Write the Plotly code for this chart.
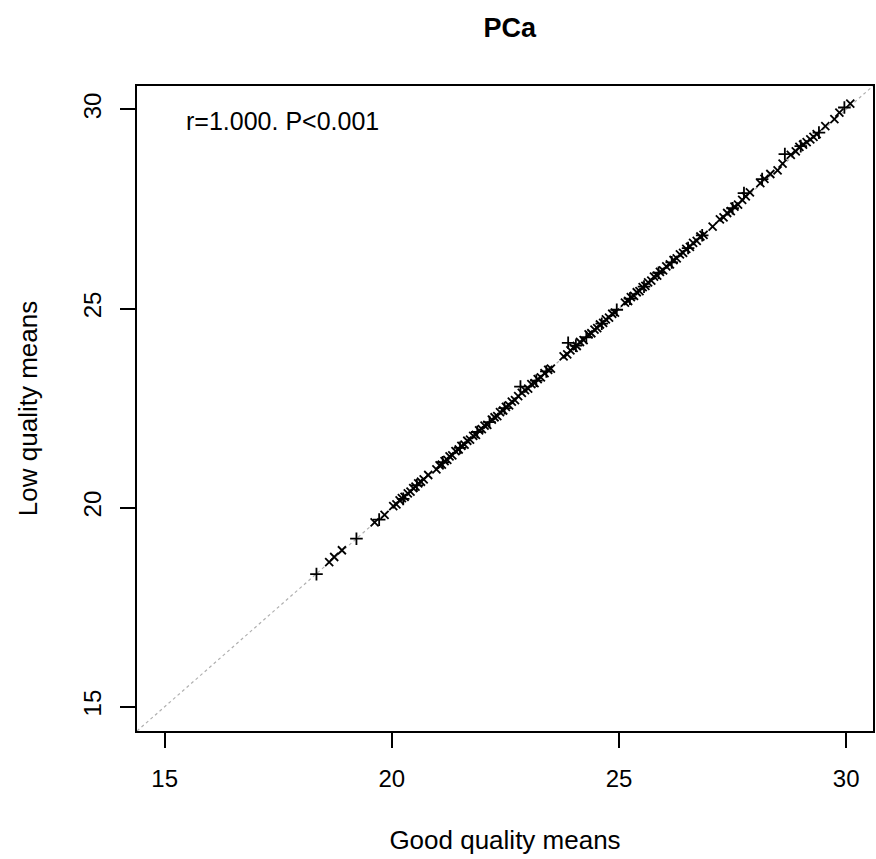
import plotly.graph_objects as go

# Series drawn with "x" markers (good quality mean, low quality mean)
good_a = [18.62, 18.73, 18.90, 19.62, 19.84, 20.03, 20.10, 20.17, 20.22, 20.28, 20.35, 20.41,
          20.47, 20.52, 20.58, 20.64, 20.70, 20.80, 20.98, 21.05, 21.10, 21.16, 21.22, 21.27,
          21.33, 21.40, 21.47, 21.53, 21.60, 21.66, 21.72, 21.79, 21.85, 21.92, 21.98, 22.04,
          22.10, 22.20, 22.26, 22.32, 22.38, 22.45, 22.51, 22.58, 22.64, 22.71, 22.78, 22.86,
          22.93, 23.00, 23.07, 23.14, 23.21, 23.28, 23.36, 23.44, 23.50, 23.78, 23.86, 23.93,
          24.00, 24.07, 24.14, 24.22, 24.33, 24.39, 24.46, 24.52, 24.58, 24.65, 24.71, 24.78,
          24.85, 24.91, 25.13, 25.20, 25.26, 25.33, 25.39, 25.45, 25.52, 25.58, 25.64, 25.71,
          25.77, 25.84, 25.90, 25.97, 26.04, 26.12, 26.20, 26.27, 26.34, 26.41, 26.48, 26.56,
          26.63, 26.71, 26.79, 26.86, 27.06, 27.22, 27.30, 27.38, 27.46, 27.54, 27.62, 27.71,
          27.79, 27.88, 28.11, 28.20, 28.33, 28.49, 28.60, 28.78, 28.89, 28.97, 29.05, 29.13,
          29.21, 29.28, 29.35, 29.54, 29.74, 29.85, 30.09]
low_a = [18.63, 18.76, 18.93, 19.63, 19.82, 20.04, 20.08, 20.18, 20.24, 20.27, 20.36, 20.40,
         20.49, 20.53, 20.61, 20.65, 20.71, 20.82, 20.96, 21.06, 21.08, 21.17, 21.20, 21.29,
         21.31, 21.42, 21.46, 21.55, 21.58, 21.68, 21.71, 21.80, 21.83, 21.94, 21.97, 22.06,
         22.08, 22.21, 22.27, 22.30, 22.40, 22.44, 22.53, 22.57, 22.66, 22.70, 22.80, 22.88,
         22.95, 22.99, 23.10, 23.13, 23.23, 23.27, 23.38, 23.46, 23.49, 23.80, 23.85, 23.95,
         24.01, 24.06, 24.16, 24.21, 24.35, 24.38, 24.47, 24.51, 24.60, 24.64, 24.73, 24.77,
         24.87, 24.90, 25.15, 25.19, 25.29, 25.32, 25.41, 25.44, 25.54, 25.57, 25.66, 25.70,
         25.80, 25.83, 25.92, 25.96, 26.06, 26.11, 26.22, 26.26, 26.36, 26.40, 26.50, 26.55,
         26.65, 26.70, 26.81, 26.85, 27.06, 27.24, 27.29, 27.40, 27.45, 27.56, 27.61, 27.73,
         27.82, 27.92, 28.15, 28.26, 28.38, 28.47, 28.64, 28.86, 28.95, 29.06, 29.12, 29.18,
         29.25, 29.31, 29.38, 29.58, 29.76, 29.92, 30.15]

# Series drawn with "+" markers
good_b = [18.34, 19.22, 19.72, 20.25, 20.55, 21.12, 21.50, 21.88, 22.15, 22.48, 22.83, 23.18,
          23.40, 23.88, 24.05, 24.28, 24.62, 24.95, 25.24, 25.55, 25.87, 26.16, 26.52, 26.83,
          27.50, 27.75, 28.15, 28.65, 29.00, 29.40, 29.96]
low_b = [18.33, 19.22, 19.70, 20.22, 20.56, 21.14, 21.50, 21.90, 22.15, 22.50, 23.04, 23.19,
         23.42, 24.14, 24.07, 24.28, 24.62, 24.97, 25.25, 25.55, 25.90, 26.16, 26.52, 26.84,
         27.52, 27.90, 28.25, 28.88, 29.08, 29.42, 30.05]

axis_lim = [14.39, 30.59]
tick_vals = [15, 20, 25, 30]
tick_text = ["15", "20", "25", "30"]
title_text = "PCa"
x_title = "Good quality means"
y_title = "Low quality means"
stat_text = "r=1.000. P<0.001"

FONT = "Liberation Sans, Arial, sans-serif"

fig = go.Figure()
# identity line
fig.add_trace(go.Scatter(x=axis_lim, y=axis_lim, mode="lines",
                         line=dict(color="#b0b0b0", width=1.2, dash="dot"),
                         hoverinfo="skip", showlegend=False))
fig.add_trace(go.Scatter(x=good_a, y=low_a, mode="markers",
                         marker=dict(symbol="x-thin", size=8, line=dict(color="black", width=1.8)),
                         showlegend=False))
fig.add_trace(go.Scatter(x=good_b, y=low_b, mode="markers",
                         marker=dict(symbol="cross-thin", size=9, line=dict(color="black", width=1.8)),
                         showlegend=False))

axis_common = dict(range=axis_lim, tickvals=tick_vals, ticktext=tick_text,
                   showgrid=False, zeroline=False, showline=True, linecolor="black",
                   linewidth=1.5, mirror=True, ticks="outside", ticklen=15, tickwidth=1.5,
                   tickcolor="black", tickfont=dict(family=FONT, size=24, color="black"))

fig.update_layout(
    width=876, height=859,
    margin=dict(l=137, r=1, t=86, b=128),
    paper_bgcolor="white", plot_bgcolor="white",
    title=dict(text="<b>" + title_text + "</b>", x=0.582, xanchor="center",
               y=1 - 28 / 859, yanchor="middle",
               font=dict(family=FONT, size=27, color="black")),
    xaxis=dict(**axis_common, title=dict(text=x_title, standoff=40,
                                         font=dict(family=FONT, size=26, color="black")),
               ticklabelstandoff=10),
    yaxis=dict(**axis_common, tickangle=-90,
               title=dict(text=y_title, standoff=34,
                          font=dict(family=FONT, size=26, color="black")),
               ticklabelstandoff=10),
    annotations=[dict(x=15.42, y=29.72, xref="x", yref="y", text=stat_text,
                      showarrow=False, xanchor="left", yanchor="middle",
                      font=dict(family=FONT, size=25, color="black"))],
)

fig.write_html("out.html")
